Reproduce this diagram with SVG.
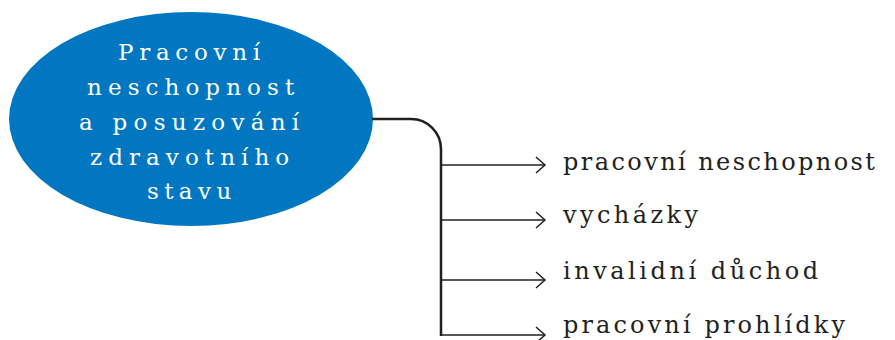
<svg xmlns="http://www.w3.org/2000/svg" width="895" height="340" viewBox="0 0 895 340">
<style>
.hub{font-family:"DejaVu Serif","Liberation Serif",serif;font-size:23px;fill:#ffffff;letter-spacing:5.8px}
.lbl{font-family:"DejaVu Serif","Liberation Serif",serif;font-size:24px;fill:#231f20;letter-spacing:2px}
.trunk{fill:none;stroke:#231f20;stroke-width:2.5}
.br{fill:none;stroke:#231f20;stroke-width:1.5}
</style>
<defs>
<marker id="arr" markerWidth="12" markerHeight="18" refX="10" refY="9" orient="auto" markerUnits="userSpaceOnUse">
<path d="M1,1 L10,9 L1,17" fill="none" stroke="#231f20" stroke-width="1.5"/>
</marker>
</defs>
<g id="hub">
<ellipse cx="191" cy="119" rx="182" ry="107" fill="#0077c0"/>
<text class="hub" x="118" y="60" textLength="148" lengthAdjust="spacing">Pracovní</text>
<text class="hub" x="87" y="95" textLength="213" lengthAdjust="spacing">neschopnost</text>
<text class="hub" x="79" y="130" textLength="226" lengthAdjust="spacing">a posuzování</text>
<text class="hub" x="90" y="165" textLength="205" lengthAdjust="spacing">zdravotního</text>
<text class="hub" x="147" y="199" textLength="90" lengthAdjust="spacing">stavu</text>
</g>
<g id="connectors">
<path class="trunk" d="M372,119 H411 A30,30 0 0 1 441,149 V336"/>
<path class="br" d="M441,165 H545" marker-end="url(#arr)"/>
<path class="br" d="M441,220 H545" marker-end="url(#arr)"/>
<path class="br" d="M441,280 H545" marker-end="url(#arr)"/>
<path class="br" d="M441,335 H545" marker-end="url(#arr)"/>
</g>
<g id="n1"><text class="lbl" x="563" y="170" textLength="314" lengthAdjust="spacing">pracovní neschopnost</text></g>
<g id="n2"><text class="lbl" x="563" y="223" textLength="137" lengthAdjust="spacing">vycházky</text></g>
<g id="n3"><text class="lbl" x="563" y="279" textLength="257" lengthAdjust="spacing">invalidní důchod</text></g>
<g id="n4"><text class="lbl" x="563" y="333" textLength="284" lengthAdjust="spacing">pracovní prohlídky</text></g>
</svg>
